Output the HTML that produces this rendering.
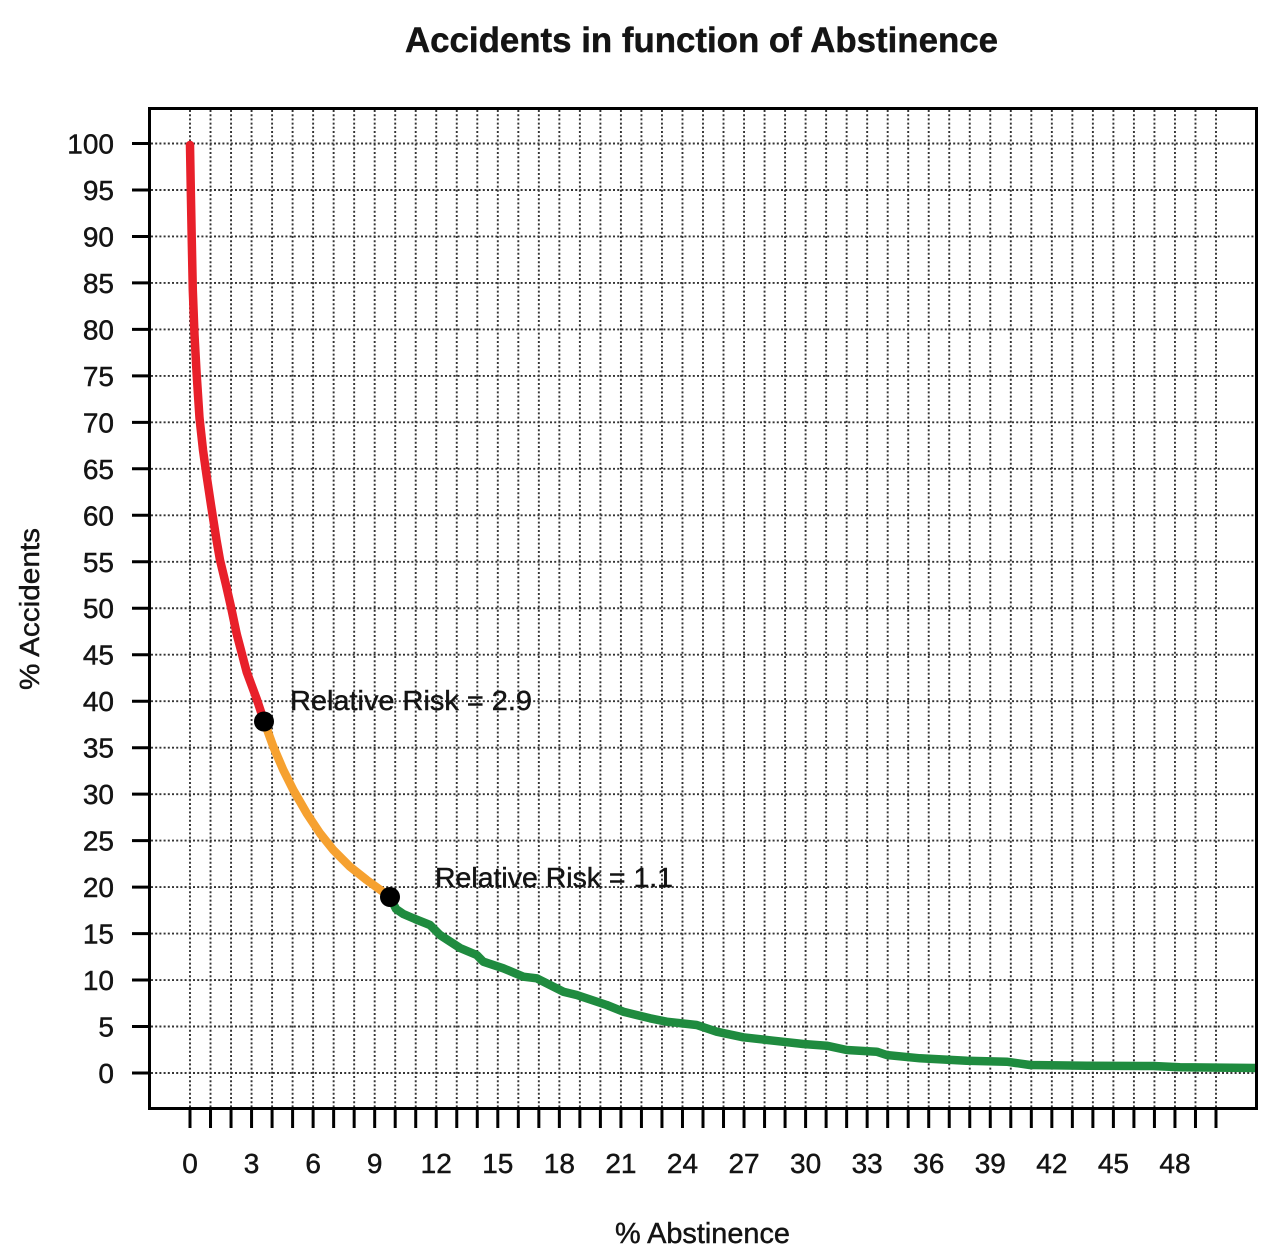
<!DOCTYPE html>
<html>
<head>
<meta charset="utf-8">
<style>
  html, body { margin: 0; padding: 0; background: #ffffff; }
  svg { display: block; }
  text { font-family: "Liberation Sans", Arial, sans-serif; fill: #141414; stroke: #141414; stroke-width: 0.45; }
</style>
</head>
<body>
<svg width="1268" height="1258" viewBox="0 0 1268 1258" xmlns="http://www.w3.org/2000/svg">
  <rect x="0" y="0" width="1268" height="1258" fill="#ffffff"/>

  <!-- Title -->
  <text x="405" y="52" font-size="35" font-weight="bold" textLength="593" lengthAdjust="spacingAndGlyphs">Accidents in function of Abstinence</text>

  <!-- Grid: vertical dotted lines -->
  <path fill="none" stroke="#333" stroke-width="1.9" stroke-dasharray="2,2.2"
    d="M190 110V1108 M210.52 110V1108 M231.04 110V1108 M251.56 110V1108 M272.08 110V1108 M292.6 110V1108 M313.12 110V1108 M333.64 110V1108 M354.16 110V1108 M374.68 110V1108 M395.2 110V1108 M415.72 110V1108 M436.24 110V1108 M456.76 110V1108 M477.28 110V1108 M497.8 110V1108 M518.32 110V1108 M538.84 110V1108 M559.36 110V1108 M579.88 110V1108 M600.4 110V1108 M620.92 110V1108 M641.44 110V1108 M661.96 110V1108 M682.48 110V1108 M703 110V1108 M723.52 110V1108 M744.04 110V1108 M764.56 110V1108 M785.08 110V1108 M805.6 110V1108 M826.12 110V1108 M846.64 110V1108 M867.16 110V1108 M887.68 110V1108 M908.2 110V1108 M928.72 110V1108 M949.24 110V1108 M969.76 110V1108 M990.28 110V1108 M1010.8 110V1108 M1031.32 110V1108 M1051.84 110V1108 M1072.36 110V1108 M1092.88 110V1108 M1113.4 110V1108 M1133.92 110V1108 M1154.44 110V1108 M1174.96 110V1108 M1195.48 110V1108 M1216 110V1108"/>
  <!-- Grid: horizontal dotted lines -->
  <path fill="none" stroke="#333" stroke-width="1.9" stroke-dasharray="2,2.2"
    d="M151 1073H1256 M151 1026.5H1256 M151 980.05H1256 M151 933.6H1256 M151 887.1H1256 M151 840.6H1256 M151 794.15H1256 M151 747.7H1256 M151 701.2H1256 M151 654.7H1256 M151 608.25H1256 M151 561.8H1256 M151 515.3H1256 M151 468.8H1256 M151 422.35H1256 M151 375.9H1256 M151 329.4H1256 M151 282.9H1256 M151 236.45H1256 M151 190H1256 M151 143.5H1256"/>

  <!-- Curves -->
  <g fill="none" stroke-width="8.5" stroke-linejoin="round" stroke-linecap="round">
    <polyline stroke="#e8202a" points="190,145 190.8,190 191.7,237 192.8,290 194.5,335 196.7,375 199.5,418 203,450 206.5,475 211,505 216.5,540 220,560 226,585 231,607 236.7,634 246.7,672 256.7,699 264,721"/>
    <polyline stroke="#f6a130" points="264,721 273.3,746.7 283.3,770 293.3,790 306.7,813.3 320,833.3 333.3,850 350,866.7 366.7,880 390,897"/>
    <polyline stroke="#1f8b3f" stroke-linecap="butt" points="390,897 396,909 403.3,914 415,919 430,925 440,935 460,948 476.7,955 483.3,961.7 503.3,968.3 523.3,976.7 536.7,978.3 563.3,991.7 576.7,995 606.7,1005 623.3,1011.7 650,1018.3 666.7,1021.7 696.7,1025 716.7,1031.7 743.3,1037.3 773.3,1040.7 803.3,1044 826.7,1045.7 846.7,1050 876.7,1051.7 886.7,1055 920,1058.3 966.7,1060.7 1006.7,1061.7 1030,1065 1086.7,1065.7 1153.3,1066 1180,1067.3 1256,1068"/>
  </g>

  <!-- Points -->
  <circle cx="264" cy="721.5" r="10" fill="#000"/>
  <circle cx="390" cy="897" r="10" fill="#000"/>

  <!-- Annotations -->
  <text x="290" y="710" font-size="28" textLength="242" lengthAdjust="spacingAndGlyphs">Relative Risk = 2.9</text>
  <text x="435" y="887" font-size="28" textLength="238" lengthAdjust="spacingAndGlyphs">Relative Risk = 1.1</text>

  <!-- Plot box -->
  <rect x="149.5" y="108.5" width="1107" height="1000" fill="none" stroke="#000" stroke-width="3"/>

  <!-- X ticks -->
  <path fill="none" stroke="#000" stroke-width="3"
    d="M190 1109V1128 M210.52 1109V1128 M231.04 1109V1128 M251.56 1109V1128 M272.08 1109V1128 M292.6 1109V1128 M313.12 1109V1128 M333.64 1109V1128 M354.16 1109V1128 M374.68 1109V1128 M395.2 1109V1128 M415.72 1109V1128 M436.24 1109V1128 M456.76 1109V1128 M477.28 1109V1128 M497.8 1109V1128 M518.32 1109V1128 M538.84 1109V1128 M559.36 1109V1128 M579.88 1109V1128 M600.4 1109V1128 M620.92 1109V1128 M641.44 1109V1128 M661.96 1109V1128 M682.48 1109V1128 M703 1109V1128 M723.52 1109V1128 M744.04 1109V1128 M764.56 1109V1128 M785.08 1109V1128 M805.6 1109V1128 M826.12 1109V1128 M846.64 1109V1128 M867.16 1109V1128 M887.68 1109V1128 M908.2 1109V1128 M928.72 1109V1128 M949.24 1109V1128 M969.76 1109V1128 M990.28 1109V1128 M1010.8 1109V1128 M1031.32 1109V1128 M1051.84 1109V1128 M1072.36 1109V1128 M1092.88 1109V1128 M1113.4 1109V1128 M1133.92 1109V1128 M1154.44 1109V1128 M1174.96 1109V1128 M1195.48 1109V1128 M1216 1109V1128"/>

  <!-- Y ticks -->
  <path fill="none" stroke="#000" stroke-width="3"
    d="M132 1073H149 M132 1026.5H149 M132 980.05H149 M132 933.6H149 M132 887.1H149 M132 840.6H149 M132 794.15H149 M132 747.7H149 M132 701.2H149 M132 654.7H149 M132 608.25H149 M132 561.8H149 M132 515.3H149 M132 468.8H149 M132 422.35H149 M132 375.9H149 M132 329.4H149 M132 282.9H149 M132 236.45H149 M132 190H149 M132 143.5H149"/>

  <!-- X tick labels -->
  <g font-size="28" text-anchor="middle">
    <text x="190" y="1173">0</text>
    <text x="251.56" y="1173">3</text>
    <text x="313.12" y="1173">6</text>
    <text x="374.68" y="1173">9</text>
    <text x="436.24" y="1173">12</text>
    <text x="497.8" y="1173">15</text>
    <text x="559.36" y="1173">18</text>
    <text x="620.92" y="1173">21</text>
    <text x="682.48" y="1173">24</text>
    <text x="744.04" y="1173">27</text>
    <text x="805.6" y="1173">30</text>
    <text x="867.16" y="1173">33</text>
    <text x="928.72" y="1173">36</text>
    <text x="990.28" y="1173">39</text>
    <text x="1051.84" y="1173">42</text>
    <text x="1113.4" y="1173">45</text>
    <text x="1174.96" y="1173">48</text>
  </g>

  <!-- Y tick labels -->
  <g font-size="28" text-anchor="end">
    <text x="114" y="1083">0</text>
    <text x="114" y="1036.5">5</text>
    <text x="114" y="990">10</text>
    <text x="114" y="943.6">15</text>
    <text x="114" y="897.1">20</text>
    <text x="114" y="850.6">25</text>
    <text x="114" y="804.1">30</text>
    <text x="114" y="757.7">35</text>
    <text x="114" y="711.2">40</text>
    <text x="114" y="664.7">45</text>
    <text x="114" y="618.2">50</text>
    <text x="114" y="571.8">55</text>
    <text x="114" y="525.3">60</text>
    <text x="114" y="478.8">65</text>
    <text x="114" y="432.3">70</text>
    <text x="114" y="385.9">75</text>
    <text x="114" y="339.4">80</text>
    <text x="114" y="292.9">85</text>
    <text x="114" y="246.4">90</text>
    <text x="114" y="200">95</text>
    <text x="114" y="153.5">100</text>
  </g>

  <!-- Axis titles -->
  <text x="615" y="1243" font-size="29" textLength="175" lengthAdjust="spacingAndGlyphs">% Abstinence</text>
  <text transform="translate(39,690) rotate(-90)" x="0" y="0" font-size="28" textLength="162" lengthAdjust="spacingAndGlyphs">% Accidents</text>
</svg>
</body>
</html>
